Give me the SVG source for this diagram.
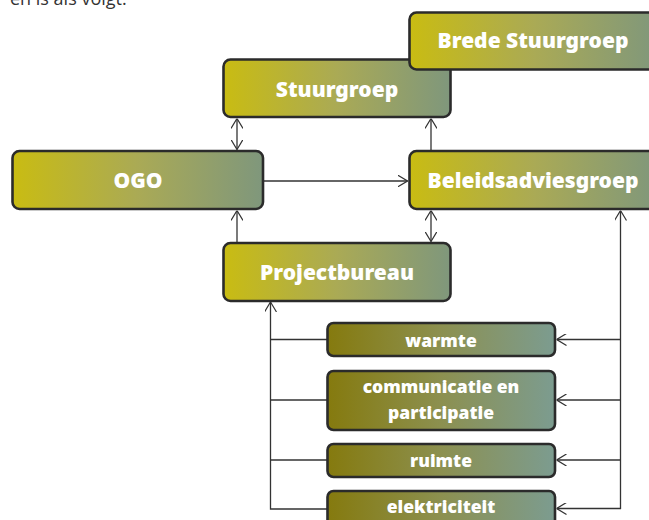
<svg xmlns="http://www.w3.org/2000/svg" width="649" height="520" viewBox="0 0 649 520">
<defs>
<linearGradient id="gMain" x1="0" y1="0" x2="1" y2="0">
<stop offset="0" stop-color="#c9bc12"/>
<stop offset="0.5" stop-color="#aaaa55"/>
<stop offset="1" stop-color="#7f977c"/>
</linearGradient>
<linearGradient id="gSub" x1="0" y1="0" x2="1" y2="0">
<stop offset="0" stop-color="#857a0e"/>
<stop offset="0.5" stop-color="#8c9050"/>
<stop offset="1" stop-color="#7c9c90"/>
</linearGradient>
<marker id="arr" viewBox="0 0 10 12" refX="10" refY="6" markerWidth="10" markerHeight="12" markerUnits="userSpaceOnUse" orient="auto-start-reverse">
<path d="M0,0 L10,6 L0,12" fill="none" stroke="#333" stroke-width="1.2"/>
</marker>
<style>
.box{stroke:#2b2b2b;stroke-width:2.6}
.main{fill:url(#gMain)}
.sub{fill:url(#gSub)}
.lbl{font-family:"Noto Sans","DejaVu Sans",sans-serif;font-weight:900;fill:#fff;text-anchor:middle}
.big{font-size:21px}
.sm{font-size:17.5px}
.con{fill:none;stroke:#333;stroke-width:1.3}
.intro{font-family:"Open Sans","Noto Sans",sans-serif;font-size:18px;fill:#333}
</style>
</defs>
<rect width="649" height="520" fill="#fff"/>
<text class="intro" x="10" y="5">en is als volgt.</text>
<g id="connectors">
<line class="con" x1="237" y1="118.5" x2="237" y2="149.5" marker-start="url(#arr)" marker-end="url(#arr)"/>
<line class="con" x1="431" y1="150" x2="431" y2="118.5" marker-end="url(#arr)"/>
<line class="con" x1="264" y1="181" x2="407.5" y2="181" marker-end="url(#arr)"/>
<line class="con" x1="237" y1="242" x2="237" y2="210.5" marker-end="url(#arr)"/>
<line class="con" x1="431" y1="210.5" x2="431" y2="241.5" marker-start="url(#arr)" marker-end="url(#arr)"/>
<line class="con" x1="620.5" y1="509" x2="620.5" y2="210.5" marker-end="url(#arr)"/>
<line class="con" x1="620.5" y1="339.5" x2="556.5" y2="339.5" marker-end="url(#arr)"/>
<line class="con" x1="620.5" y1="400" x2="556.5" y2="400" marker-end="url(#arr)"/>
<line class="con" x1="620.5" y1="460" x2="556.5" y2="460" marker-end="url(#arr)"/>
<line class="con" x1="621" y1="508.5" x2="556.5" y2="508.5" marker-end="url(#arr)"/>
<polyline class="con" points="327,509 270.5,509 270.5,302" marker-end="url(#arr)"/>
<line class="con" x1="327" y1="339.5" x2="270.5" y2="339.5"/>
<line class="con" x1="327" y1="400" x2="270.5" y2="400"/>
<line class="con" x1="327" y1="460" x2="270.5" y2="460"/>
</g>
<g id="stuurgroep">
<rect class="box main" x="223.5" y="59.5" width="227" height="57.5" rx="7"/>
<text class="lbl big" x="337" y="97">Stuurgroep</text>
</g>
<g id="brede-stuurgroep">
<rect class="box main" x="409.5" y="12.5" width="250" height="57" rx="7"/>
<text class="lbl big" x="533" y="48">Brede Stuurgroep</text>
</g>
<g id="ogo">
<rect class="box main" x="12.5" y="151" width="250.5" height="58" rx="7"/>
<text class="lbl big" x="138" y="188">OGO</text>
</g>
<g id="beleidsadviesgroep">
<rect class="box main" x="409.5" y="151" width="250" height="58" rx="7"/>
<text class="lbl big" x="533" y="188">Beleidsadviesgroep</text>
</g>
<g id="projectbureau">
<rect class="box main" x="223.5" y="243" width="227" height="58" rx="7"/>
<text class="lbl big" x="337" y="280">Projectbureau</text>
</g>
<g id="warmte">
<rect class="box sub" x="327.5" y="323" width="227.5" height="33" rx="6"/>
<text class="lbl sm" x="441" y="346.5">warmte</text>
</g>
<g id="communicatie">
<rect class="box sub" x="327.5" y="371" width="227.5" height="59" rx="6"/>
<text class="lbl sm" x="441" y="392.5">communicatie en</text>
<text class="lbl sm" x="441" y="418.5">participatie</text>
</g>
<g id="ruimte">
<rect class="box sub" x="327.5" y="444" width="227.5" height="33" rx="6"/>
<text class="lbl sm" x="441" y="467">ruimte</text>
</g>
<g id="elektriciteit">
<rect class="box sub" x="327.5" y="491" width="227.5" height="40" rx="6"/>
<text class="lbl sm" x="441" y="512.5">elektriciteit</text>
</g>
</svg>
